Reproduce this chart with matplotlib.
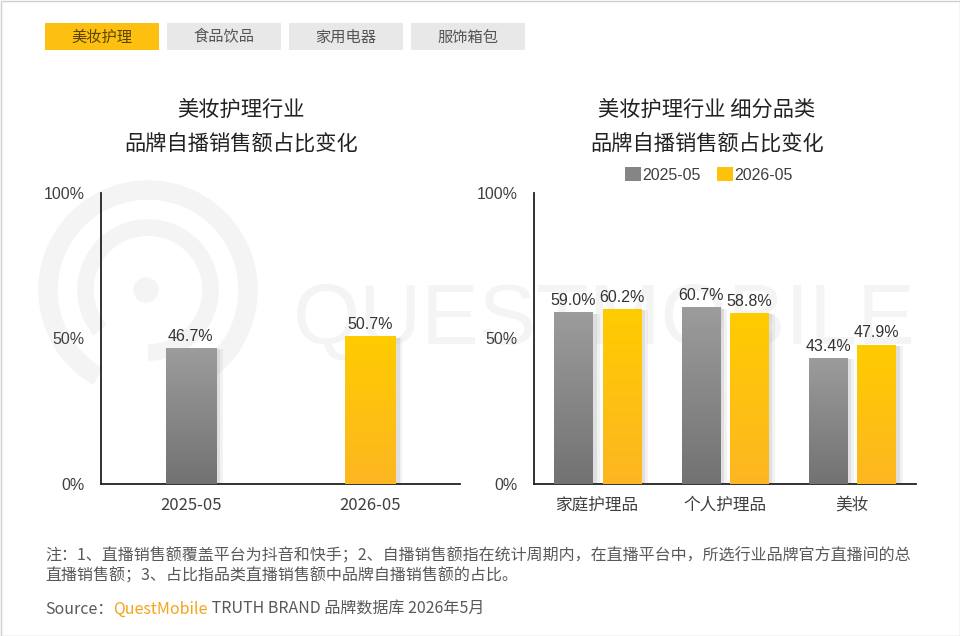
import numpy as np
import matplotlib
matplotlib.use('Agg')
import matplotlib.pyplot as plt
from matplotlib.colors import LinearSegmentedColormap
from matplotlib.patches import Rectangle, Arc, Circle, Patch
import matplotlib.patheffects as pe

plt.rcParams['font.family'] = ['Noto Sans CJK SC', 'DejaVu Sans']

# data
tabs = ['美妆护理', '食品饮品', '家用电器', '服饰箱包']
periods = ['2025-05', '2026-05']
overall = [46.7, 50.7]
subcats = ['家庭护理品', '个人护理品', '美妆']
share_2025 = [59.0, 60.7, 43.4]
share_2026 = [60.2, 58.8, 47.9]

title_left = '美妆护理行业\n品牌自播销售额占比变化'
title_right = '美妆护理行业 细分品类\n品牌自播销售额占比变化'
note = ('注：1、直播销售额覆盖平台为抖音和快手；2、自播销售额指在统计周期内，在直播平台中，所选行业品牌官方直播间的总\n'
        '直播销售额；3、占比指品类直播销售额中品牌自播销售额的占比。')

GRAY = ('#9c9c9c', '#727272')
YELLOW = ('#ffcc00', '#fdb622')
TXT = '#404040'
NUMFONT = ['Liberation Sans', 'DejaVu Sans']

W, H = 960, 636
fig = plt.figure(figsize=(W / 100, H / 100), dpi=100)

# background layer in pixel coords: frame, tabs, watermark
bg = fig.add_axes([0, 0, 1, 1], zorder=-1)
bg.set_xlim(0, W)
bg.set_ylim(H, 0)
bg.axis('off')
bg.add_patch(Rectangle((0.5, 0.5), W - 1, H - 1, fill=False, edgecolor='#cfcfcf', lw=1))

for i, t in enumerate(tabs):
    x0 = 45 + i * 122
    fc = '#fdc010' if i == 0 else '#e8e8e8'
    tc = '#5a4500' if i == 0 else '#555555'
    bg.add_patch(Rectangle((x0, 23), 114, 27, facecolor=fc, edgecolor='none'))
    bg.text(x0 + 57, 37, t, ha='center', va='center', fontsize=11, color=tc)

wm = '#f4f4f4'
bg.add_patch(Arc((148, 290), 200, 200, theta1=120, theta2=430, lw=14, color=wm))
bg.add_patch(Arc((148, 290), 125, 125, theta1=140, theta2=450, lw=12, color=wm))
bg.add_patch(Circle((146, 290), 12, color=wm))
bg.text(604, 322, 'QUESTMOBILE', ha='center', va='center', fontsize=62,
        color=wm, family=NUMFONT)


def gradient_bars(ax, bars, colors):
    cmap = LinearSegmentedColormap.from_list('g', [colors[1], colors[0]])
    grad = np.linspace(0, 1, 256).reshape(-1, 1)
    for b in bars:
        x, y = b.get_xy()
        w, h = b.get_width(), b.get_height()
        b.set_path_effects([
            pe.SimplePatchShadow(offset=(5, -1), shadow_rgbFace='#cccccc', alpha=0.25),
            pe.SimplePatchShadow(offset=(3, -1), shadow_rgbFace='#b5b5b5', alpha=0.3),
            pe.Normal()])
        im = ax.imshow(grad, cmap=cmap, aspect='auto', origin='lower',
                       extent=(x, x + w, y, y + h), zorder=3)
        im.set_clip_path(b)


def style_axes(ax, n):
    ax.set_facecolor('none')
    ax.set_xlim(-0.5, n - 0.5)
    ax.set_ylim(0, 100)
    for s in ['top', 'right']:
        ax.spines[s].set_visible(False)
    for s in ['left', 'bottom']:
        ax.spines[s].set_color('#222222')
        ax.spines[s].set_linewidth(1.3)
    ax.set_yticks([0, 50, 100])
    ax.set_yticklabels(['0%', '50%', '100%'], family=NUMFONT, fontsize=11.5, color=TXT)
    ax.tick_params(length=0, pad=12)
    ax.tick_params(axis='x', pad=9)


def label_bars(ax, bars, vals):
    for b, v in zip(bars, vals):
        ax.annotate('%.1f%%' % v, (b.get_x() + b.get_width() / 2, v),
                    xytext=(0, 3), textcoords='offset points', ha='center', va='bottom',
                    fontsize=11.5, color='#333333', family=NUMFONT, zorder=5)


# left chart
ax1 = fig.add_axes([101 / W, 1 - 484 / H, 359 / W, 291 / H])
x1 = np.arange(len(periods))
b_a = ax1.bar(x1[:1], overall[:1], 0.28, color=GRAY[1], zorder=2)
b_b = ax1.bar(x1[1:], overall[1:], 0.28, color=YELLOW[1], zorder=2)
gradient_bars(ax1, b_a, GRAY)
gradient_bars(ax1, b_b, YELLOW)
label_bars(ax1, list(b_a) + list(b_b), overall)
style_axes(ax1, len(periods))
ax1.set_xticks(x1)
ax1.set_xticklabels(periods, fontsize=12, color=TXT)

# right chart
ax2 = fig.add_axes([534 / W, 1 - 484 / H, 382 / W, 291 / H])
x2 = np.arange(len(subcats))
bw, off = 0.30, 0.19
r_a = ax2.bar(x2 - off, share_2025, bw, color=GRAY[1], zorder=2)
r_b = ax2.bar(x2 + off, share_2026, bw, color=YELLOW[1], zorder=2)
gradient_bars(ax2, r_a, GRAY)
gradient_bars(ax2, r_b, YELLOW)
label_bars(ax2, r_a, share_2025)
label_bars(ax2, r_b, share_2026)
style_axes(ax2, len(subcats))
ax2.set_xticks(x2)
ax2.set_xticklabels(subcats, fontsize=12, color=TXT)

# titles
fig.text(241 / W, 1 - 127 / H, title_left, ha='center', va='center', fontsize=15.3,
         color='#222222', linespacing=1.75)
fig.text(707 / W, 1 - 127 / H, title_right, ha='center', va='center', fontsize=15.3,
         color='#222222', linespacing=1.75)

# legend
handles = [Patch(facecolor='#858585', edgecolor='none'), Patch(facecolor='#ffc20a', edgecolor='none')]
fig.legend(handles, periods, loc='center', bbox_to_anchor=(709 / W, 1 - 175 / H), ncol=2,
           frameon=False, handlelength=1.0, handleheight=1.0, handletextpad=0.1,
           columnspacing=1.0, prop={'family': NUMFONT, 'size': 11.5}, labelcolor=TXT)

# footer
fig.text(45 / W, 1 - 566 / H, note, ha='left', va='center', fontsize=11.5,
         color='#595959', linespacing=1.3)
renderer = fig.canvas.get_renderer()
xpos = 45 / W
for s, c in [('Source：', '#595959'), ('QuestMobile', '#f5a31a'),
             (' TRUTH BRAND 品牌数据库 2026年5月', '#595959')]:
    t = fig.text(xpos, 1 - 609 / H, s, ha='left', va='center', fontsize=11.5, color=c)
    bb = t.get_window_extent(renderer)
    xpos = bb.x1 / W

fig.savefig('out.png', dpi=100)
